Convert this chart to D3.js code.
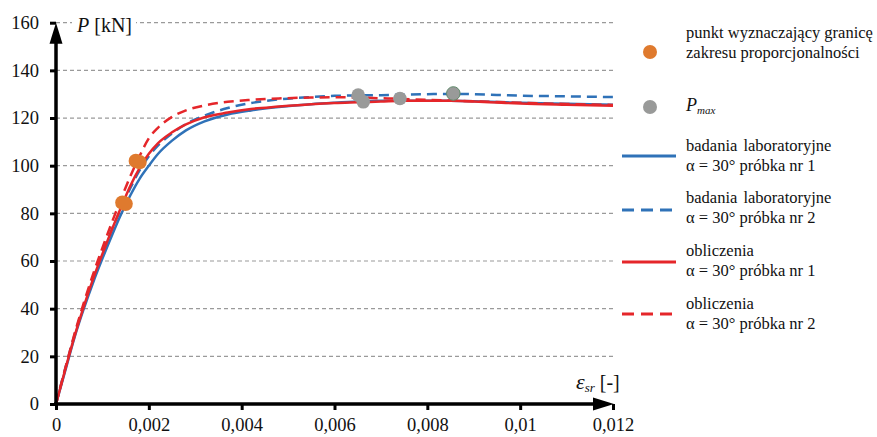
<!DOCTYPE html>
<html>
<head>
<meta charset="utf-8">
<script src="https://cdn.jsdelivr.net/npm/d3@7"></script>
<style>
  html, body { margin: 0; padding: 0; background: #fff; }
  svg { display: block; }
  svg text { font-family: "Liberation Serif", "Times New Roman", Tinos, "DejaVu Serif", "Noto Serif", serif !important; }
</style>
</head>
<body>
<svg id="chart" width="877" height="437"></svg>
<script>
// ---------------- DATA ----------------
const xTicks = [0, 0.002, 0.004, 0.006, 0.008, 0.01, 0.012];
const xTickLabels = ["0", "0,002", "0,004", "0,006", "0,008", "0,01", "0,012"];
const yTicks = [0, 20, 40, 60, 80, 100, 120, 140, 160];
const yTickLabels = ["0", "20", "40", "60", "80", "100", "120", "140", "160"];

// strain values shared by all series
const strain = [0, 0.0002, 0.0004, 0.0006, 0.0008, 0.001, 0.0012, 0.0014, 0.0016, 0.0018,
  0.002, 0.0022, 0.0025, 0.0028, 0.0032, 0.0037, 0.0042, 0.0048, 0.0055, 0.006,
  0.0065, 0.007, 0.0075, 0.008, 0.0085, 0.009, 0.0095, 0.01, 0.011, 0.012];

// badania laboratoryjne, próbka nr 1 (blue solid)
const lab1 = [0, 14, 28, 40, 51, 61, 70.5, 79.5, 87.5, 94.5,
  100, 105, 110.5, 114.8, 118.6, 121.5, 123.2, 124.6, 125.8, 126.4,
  126.9, 127.2, 127.3, 127.3, 127.2, 127.0, 126.7, 126.4, 126.0, 125.6];
// badania laboratoryjne, próbka nr 2 (blue dashed)
const lab2 = [0, 15, 29, 41.5, 53, 63.5, 73, 82, 90.5, 98,
  104, 108.5, 113.5, 117.5, 121, 124.2, 126.3, 127.8, 128.8, 129.3,
  129.5, 129.6, 129.8, 130.0, 130.1, 130.0, 129.7, 129.4, 129.1, 128.8];
// obliczenia, próbka nr 1 (red solid)
const calc1 = [0, 14.5, 28.5, 41, 52.5, 63, 73, 82.5, 91.5, 99,
  105, 109.5, 114, 117.3, 120.3, 122.3, 123.8, 124.8, 125.8, 126.3,
  126.6, 126.9, 127.2, 127.3, 127.2, 126.9, 126.5, 126.1, 125.6, 125.2];
// obliczenia, próbka nr 2 (red dashed)
const calc2 = [0, 15, 29.5, 42.5, 54.5, 65.5, 76, 86, 95.5, 104,
  111.5, 116, 120.5, 123.2, 125.3, 126.8, 127.6, 128.2, 128.6, 128.7,
  128.6, 128.3, 128.0, 127.6, 127.3, 127.0, 126.7, 126.4, 125.9, 125.5];

// points marking the limit of proportionality
const propStrain = [0.00143, 0.00150, 0.00172, 0.00180];
const propLoad = [84.5, 84.0, 102.0, 101.5];
// Pmax points
const pmaxStrain = [0.00651, 0.00662, 0.00741, 0.00856];
const pmaxLoad = [129.6, 126.8, 128.2, 130.3];

const seriesNames = ["badania laboratoryjne", "badania laboratoryjne", "obliczenia", "obliczenia"];
const seriesSub = ["α = 30° próbka nr 1", "α = 30° próbka nr 2", "α = 30° próbka nr 1", "α = 30° próbka nr 2"];
const seriesData = [lab1, lab2, calc1, calc2];
const seriesColors = ["#2f72b8", "#2f72b8", "#e5262a", "#e5262a"];
const seriesDash = [null, "10,6", null, "10,6"];

// ---------------- CHART ----------------
const svg = d3.select("#chart");
const x = d3.scaleLinear().domain([0, 0.012]).range([56, 613]);
const y = d3.scaleLinear().domain([0, 160]).range([404, 22.7]);

// gridlines
svg.append("g").selectAll("line").data(yTicks.filter(d => d > 0)).join("line")
  .attr("x1", x(0)).attr("x2", x(0.012))
  .attr("y1", d => y(d)).attr("y2", d => y(d))
  .attr("stroke", "#9a9a9a").attr("stroke-width", 1.2).attr("stroke-dasharray", "4,3");

// axes (ticks + labels) via d3 axes
const gx = svg.append("g").attr("transform", `translate(0,${y(0)})`)
  .call(d3.axisBottom(x).tickValues(xTicks).tickSize(6).tickPadding(8)
    .tickFormat((d, i) => xTickLabels[i]));
gx.select(".domain").remove();
gx.selectAll(".tick line").attr("stroke", "#000").attr("stroke-width", 3);
gx.selectAll(".tick text").attr("font-size", 18.5).attr("fill", "#111");

const gy = svg.append("g").attr("transform", `translate(${x(0)},0)`)
  .call(d3.axisLeft(y).tickValues(yTicks).tickSize(6).tickPadding(11)
    .tickFormat((d, i) => yTickLabels[i]));
gy.select(".domain").remove();
gy.selectAll(".tick line").attr("stroke", "#000").attr("stroke-width", 3);
gy.selectAll(".tick text").attr("font-size", 18.5).attr("fill", "#111");

// curves
const line = d3.line().x((d, i) => x(strain[i])).y(d => y(d)).curve(d3.curveMonotoneX);
seriesData.forEach((s, k) => {
  svg.append("path").datum(s).attr("d", line)
    .attr("fill", "none").attr("stroke", seriesColors[k]).attr("stroke-width", 2.5)
    .attr("stroke-dasharray", seriesDash[k]);
});

// axis lines with arrows
svg.append("line").attr("x1", x(0)).attr("x2", x(0)).attr("y1", y(0) + 2).attr("y2", y(160) + 10)
  .attr("stroke", "#000").attr("stroke-width", 3.5);
svg.append("path")
  .attr("d", `M${x(0)},${y(160)} L${x(0) - 6.5},${y(160) + 21} L${x(0) + 6.5},${y(160) + 21} Z`)
  .attr("fill", "#000");
svg.append("line").attr("x1", x(0) - 2).attr("x2", x(0.012) - 10).attr("y1", y(0)).attr("y2", y(0))
  .attr("stroke", "#000").attr("stroke-width", 3.5);
svg.append("path")
  .attr("d", `M${x(0.012) + 1},${y(0)} L${x(0.012) - 20},${y(0) - 6.5} L${x(0.012) - 20},${y(0) + 6.5} Z`)
  .attr("fill", "#000");

// markers
svg.append("g").selectAll("circle").data(propStrain).join("circle")
  .attr("cx", d => x(d)).attr("cy", (d, i) => y(propLoad[i])).attr("r", 7.2)
  .attr("fill", "#df7a2e");
svg.append("g").selectAll("circle").data(pmaxStrain).join("circle")
  .attr("cx", d => x(d)).attr("cy", (d, i) => y(pmaxLoad[i])).attr("r", 6.8)
  .attr("fill", "#999a99").attr("stroke", (d, i) => i === 3 ? "#5f8a6a" : "none").attr("stroke-width", 1);

// axis titles
const pLab = svg.append("g");
pLab.append("rect").attr("x", 72).attr("y", 12).attr("width", 64).attr("height", 24).attr("fill", "#fff");
const pt = pLab.append("text").attr("x", 77).attr("y", 32).attr("font-size", 20).attr("fill", "#111");
pt.append("tspan").attr("font-style", "italic").text("P");
pt.append("tspan").text(" [kN]");

const et = svg.append("text").attr("x", 576).attr("y", 389).attr("font-size", 20).attr("fill", "#111");
et.append("tspan").attr("font-style", "italic").attr("font-size", 22).text("ε");
et.append("tspan").attr("font-style", "italic").attr("font-size", 13).attr("dy", 3).text("sr");
et.append("tspan").attr("dy", -3).text(" [-]");

// legend
const lg = svg.append("g").attr("font-size", 16.5).attr("fill", "#111");
lg.append("circle").attr("cx", 650).attr("cy", 52).attr("r", 7).attr("fill", "#df7a2e");
lg.append("text").attr("x", 686).attr("y", 38).text("punkt wyznaczający granicę");
lg.append("text").attr("x", 686).attr("y", 58).text("zakresu proporcjonalności");
lg.append("circle").attr("cx", 650).attr("cy", 107).attr("r", 7).attr("fill", "#999a99");
const pm = lg.append("text").attr("x", 686).attr("y", 111).attr("font-size", 18);
pm.append("tspan").attr("font-style", "italic").text("P");
pm.append("tspan").attr("font-style", "italic").attr("font-size", 11).attr("dy", 3).text("max");

const legBase = [151, 203, 256, 309];
const legLineY = [156, 210, 262, 314];
seriesNames.forEach((n, k) => {
  lg.append("line").attr("x1", 622).attr("x2", 676).attr("y1", legLineY[k]).attr("y2", legLineY[k])
    .attr("stroke", seriesColors[k]).attr("stroke-width", 3)
    .attr("stroke-dasharray", seriesDash[k] ? "12,7" : null);
  lg.append("text").attr("x", 686).attr("y", legBase[k]).attr("word-spacing", 2).text(n);
  lg.append("text").attr("x", 686).attr("y", legBase[k] + 19.5).text(seriesSub[k]);
});
</script>
</body>
</html>
